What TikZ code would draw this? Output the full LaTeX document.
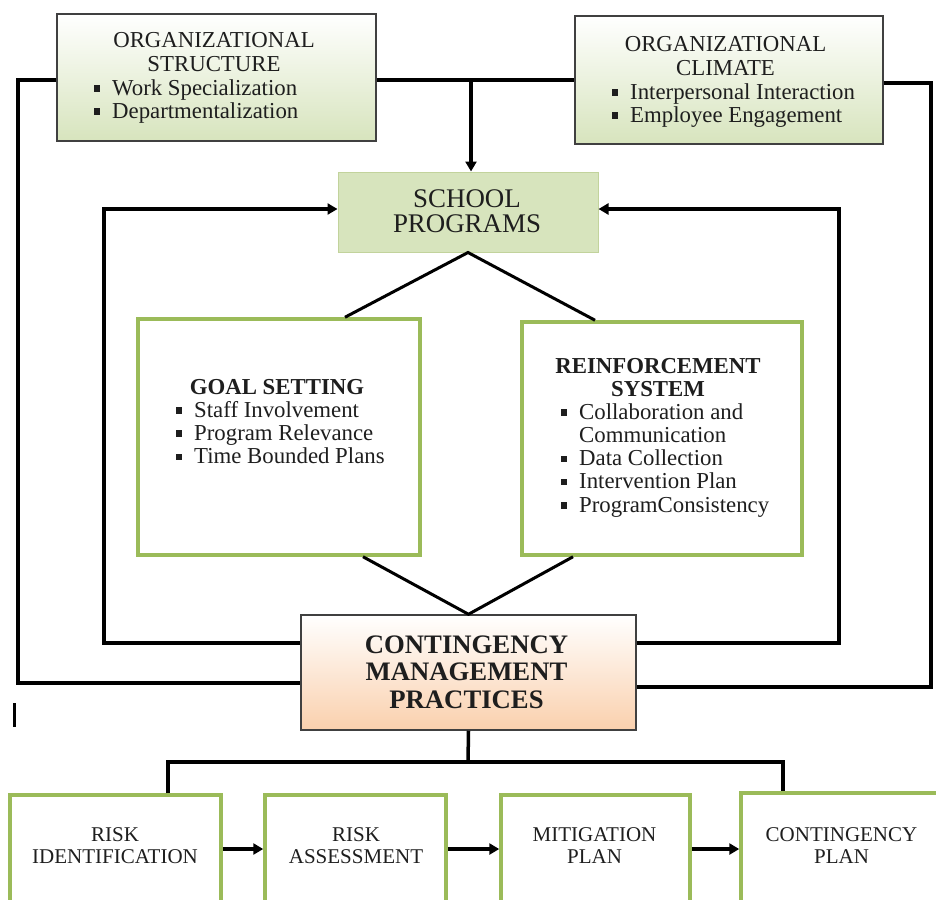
\documentclass[tikz,border=0pt]{standalone}
\usepackage{fontspec}
\setmainfont{Liberation Serif}
\usetikzlibrary{arrows.meta}
\definecolor{gfill}{HTML}{D7E4BD}
\definecolor{gedge}{HTML}{C2D39C}
\definecolor{gline}{HTML}{9BBB59}
\definecolor{peach}{HTML}{FAD0AD}
\definecolor{dk}{HTML}{404040}
\definecolor{txt}{HTML}{1E1E1E}
\newcommand{\bsq}{\makebox[18pt][l]{\rule[3.5pt]{6pt}{6.5pt}}}
\newcommand{\ctab}[1]{\begin{tabular}[t]{@{}c@{}}#1\end{tabular}}
\newcommand{\ltab}[1]{\begin{tabular}[t]{@{}l@{}}#1\end{tabular}}
\begin{document}
\begin{tikzpicture}[x=1pt,y=-1pt,
  conn/.style={line width=3.5pt, draw=black},
  arr/.style={conn, -{Triangle[length=10pt,width=11pt]}},
  diag/.style={line width=3pt, draw=black},
  gradbox/.style={draw=dk, line width=1.5pt, inner sep=0pt},
  orgbox/.style={gradbox, top color=white, bottom color=gfill},
  cmpbox/.style={gradbox, top color=white, bottom color=peach},
  spbox/.style={draw=gedge, line width=1pt, fill=gfill, inner sep=0pt},
  grbox/.style={draw=gline, line width=3.5pt, fill=white, inner sep=0pt},
  tmid/.style={inner sep=0pt, text=txt, font=\fontsize{22.8}{23.3}\selectfont},
  tsp/.style={inner sep=0pt, text=txt, font=\fontsize{26.9}{25}\selectfont},
  tcmp/.style={inner sep=0pt, text=txt, font=\bfseries\fontsize{26.7}{27.5}\selectfont},
  tbot/.style={inner sep=0pt, text=txt, font=\fontsize{21}{22}\selectfont},
]
\useasboundingbox (0,0) rectangle (936,899);
\clip (0,0) rectangle (936,899);

% boxes
\node[orgbox, minimum width=319pt, minimum height=127pt] (os) at (216.5,77.5) {};
\node[orgbox, minimum width=308pt, minimum height=128pt] (oc) at (729,80) {};
\node[spbox, minimum width=260pt, minimum height=80pt] (sp) at (468,212) {};
\node[grbox, minimum width=282pt, minimum height=236pt] (gs) at (279,437) {};
\node[grbox, minimum width=280pt, minimum height=233pt] (rs) at (662,438.5) {};
\node[cmpbox, minimum width=335pt, minimum height=115pt] (cmp) at (468.5,672.5) {};
\node[grbox, minimum width=211pt, minimum height=115pt] (ri) at (115.5,852.5) {};
\node[grbox, minimum width=181pt, minimum height=115pt] (ra) at (355.5,852.5) {};
\node[grbox, minimum width=189pt, minimum height=115pt] (mp) at (595.5,852.5) {};
\node[grbox, minimum width=201pt, minimum height=117pt] (cp) at (841.5,851.5) {};

% texts
\node[tmid, anchor=base] (osh) at (214,48) {\ctab{ORGANIZATIONAL\\STRUCTURE}};
\node[tmid, anchor=base west] (osl) at (94,95) {\ltab{\bsq Work Specialization\\\bsq Departmentalization}};
\node[tmid, anchor=base] (och) at (725.5,52) {\ctab{ORGANIZATIONAL\\CLIMATE}};
\node[tmid, anchor=base west] (ocl) at (612,99) {\ltab{\bsq Interpersonal Interaction\\\bsq Employee Engagement}};
\node[tsp, anchor=base] (spt) at (467,207) {\ctab{SCHOOL\\PROGRAMS}};
\node[tmid, anchor=base, font=\bfseries\fontsize{22.8}{23.3}\selectfont] (gsh) at (277,394) {GOAL SETTING};
\node[tmid, anchor=base west] (gsl) at (176,417) {\ltab{\bsq Staff Involvement\\\bsq Program Relevance\\\bsq Time Bounded Plans}};
\node[tmid, anchor=base, font=\bfseries\fontsize{22.8}{23.3}\selectfont] (rsh) at (658,373) {\ctab{REINFORCEMENT\\SYSTEM}};
\node[tmid, anchor=base west] (rsl) at (561,419) {\ltab{\bsq Collaboration and\\\hspace*{18pt}Communication\\\bsq Data Collection\\\bsq Intervention Plan\\\bsq ProgramConsistency}};
\node[tcmp, anchor=base] (cmpt) at (466.5,653) {\ctab{CONTINGENCY\\MANAGEMENT\\PRACTICES}};
\node[tbot, anchor=base] (rit) at (115,841) {\ctab{RISK\\IDENTIFICATION}};
\node[tbot, anchor=base] (rat) at (356,841) {\ctab{RISK\\ASSESSMENT}};
\node[tbot, anchor=base] (mpt) at (594.5,841) {\ctab{MITIGATION\\PLAN}};
\node[tbot, anchor=base] (cpt) at (841.5,841) {\ctab{CONTINGENCY\\PLAN}};

% top connectors
\coordinate (jt) at (471,80);
\draw[conn] (os.east |- jt) -- (oc.west |- jt);
\draw[arr] (jt) -- (jt |- sp.north);
\coordinate (lot) at (18,80);
\coordinate (lob) at (18,683);
\draw[conn] (os.west |- lot) -- (lot) -- (lob) -- (cmp.west |- lob);
\coordinate (rot) at (931,83);
\coordinate (rob) at (931,687);
\draw[conn] (oc.east |- rot) -- (rot) -- (rob) -- (cmp.east |- rob);
% inner loops
\coordinate (lib) at (104,643);
\coordinate (lit) at (104,209);
\draw[arr] (cmp.west |- lib) -- (lib) -- (lit) -- (sp.west |- lit);
\coordinate (rib) at (839,643);
\coordinate (rit2) at (839,209);
\draw[arr] (cmp.east |- rib) -- (rib) -- (rit2) -- (sp.east |- rit2);
% diagonals
\coordinate (gst) at (345,319);
\coordinate (rst) at (595,322);
\coordinate (gsb) at (363,555);
\coordinate (rsb) at (573,555);
\draw[diag] (gs.north -| gst) -- (sp.south) -- (rs.north -| rst);
\draw[diag] (gs.south -| gsb) -- (cmp.north) -- (rs.south -| rsb);
% bottom tree
\coordinate (jb) at (468,762);
\coordinate (bl) at (168,762);
\coordinate (br) at (783,762);
\draw[conn] (cmp.south) -- (jb);
\draw[conn] (ri.north -| bl) -- (bl) -- (br) -- (cp.north -| br);
% bottom arrows
\coordinate (ya) at (0,849);
\draw[arr] (ri.east |- ya) -- (ra.west |- ya);
\draw[arr] (ra.east |- ya) -- (mp.west |- ya);
\draw[arr] (mp.east |- ya) -- (cp.west |- ya);
% stray mark
\draw[line width=3pt, black] (14,703) -- (14,727);
\end{tikzpicture}
\end{document}
